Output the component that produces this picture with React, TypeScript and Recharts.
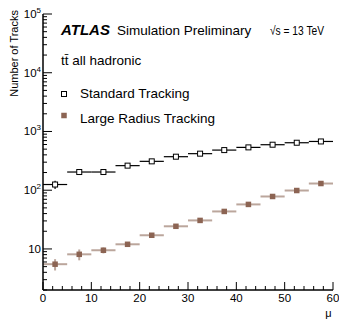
import React from 'react';
import { ScatterChart, Scatter, XAxis, YAxis, ErrorBar } from 'recharts';

const muBinCenters = [2.5, 7.5, 12.5, 17.5, 22.5, 27.5, 32.5, 37.5, 42.5, 47.5, 52.5, 57.5];
const muBinHalfWidths = [2.5, 2.5, 2.5, 2.5, 2.5, 2.5, 2.5, 2.5, 2.5, 2.5, 2.5, 2.5];
const standardTracks = [125, 204, 204, 262, 310, 372, 419, 482, 536, 595, 643, 676];
const standardErrors = [20, 8, 8, 8, 8, 8, 8, 8, 8, 8, 8, 8];
const largeRadiusTracks = [5.5, 8.1, 9.5, 12.0, 17.1, 24.3, 30.6, 43.5, 57.3, 78.2, 98.8, 130];
const largeRadiusErrors = [1.2, 1.7, 1.1, 0.7, 0.6, 0.6, 0.6, 0.7, 0.8, 1.0, 1.2, 1.5];

const xMajorTicks = [0, 10, 20, 30, 40, 50, 60];
const xMinorTicks = [2, 4, 6, 8, 12, 14, 16, 18, 22, 24, 26, 28, 32, 34, 36, 38, 42, 44, 46, 48, 52, 54, 56, 58];
const yMajorTicks = [10, 100, 1000, 10000, 100000];
const yMinorTicks = [
  2, 3, 4, 5, 6, 7, 8, 9,
  20, 30, 40, 50, 60, 70, 80, 90,
  200, 300, 400, 500, 600, 700, 800, 900,
  2000, 3000, 4000, 5000, 6000, 7000, 8000, 9000,
  20000, 30000, 40000, 50000, 60000, 70000, 80000, 90000,
];
const yTickLabels: Record<number, [string, string]> = {
  10: ['10', ''],
  100: ['10', '2'],
  1000: ['10', '3'],
  10000: ['10', '4'],
  100000: ['10', '5'],
};

const xTicks = [...xMajorTicks, ...xMinorTicks].sort((a, b) => a - b);
const yTicks = [...yMajorTicks, ...yMinorTicks].sort((a, b) => a - b);

const standardData = muBinCenters.map((mu, i) => ({
  mu,
  tracks: standardTracks[i],
  xerr: muBinHalfWidths[i],
  yerr: standardErrors[i],
}));
const largeRadiusData = muBinCenters.map((mu, i) => ({
  mu,
  tracks: largeRadiusTracks[i],
  xerr: muBinHalfWidths[i],
  yerr: largeRadiusErrors[i],
}));

const LR_COLOR = '#8c6453';
const LR_BAR = '#bba69c';
const FONT = '"Liberation Sans", Arial, Helvetica, sans-serif';

const isMajorX = (v: number) => xMajorTicks.includes(v);
const isMajorY = (v: number) => yMajorTicks.includes(v);

const BottomTick = (p: any) => {
  const v = p.payload.value;
  const major = isMajorX(v);
  return (
    <g>
      <line x1={p.x} x2={p.x} y1={p.y} y2={p.y - (major ? 8 : 4)} stroke="#000" strokeWidth={1} />
      {major && (
        <text x={p.x} y={p.y + 12} textAnchor="middle" fontSize={11.5} fontFamily={FONT} fill="#000">
          {v}
        </text>
      )}
    </g>
  );
};
const TopTick = (p: any) => {
  const v = p.payload.value;
  const major = isMajorX(v);
  return <line x1={p.x} x2={p.x} y1={p.y} y2={p.y + (major ? 8 : 4)} stroke="#000" strokeWidth={1} />;
};
const LeftTick = (p: any) => {
  const v = p.payload.value;
  const major = isMajorY(v);
  const lab = yTickLabels[v];
  return (
    <g>
      <line x1={p.x} x2={p.x + (major ? 9 : 4)} y1={p.y} y2={p.y} stroke="#000" strokeWidth={1} />
      {major && lab && (
        <text x={p.x - 2} y={p.y} dy={4} textAnchor="end" fontSize={11.5} fontFamily={FONT} fill="#000">
          <tspan>{lab[0]}</tspan>
          {lab[1] && (
            <tspan dy={-5} fontSize={8}>
              {lab[1]}
            </tspan>
          )}
        </text>
      )}
    </g>
  );
};
const RightTick = (p: any) => {
  const v = p.payload.value;
  const major = isMajorY(v);
  return <line x1={p.x} x2={p.x - (major ? 9 : 4)} y1={p.y} y2={p.y} stroke="#000" strokeWidth={1} />;
};

const OpenSquare = (p: any) => (
  <rect x={p.cx - 2.5} y={p.cy - 2.5} width={5} height={5} fill="#fff" stroke="#000" strokeWidth={1} />
);
const FilledSquare = (p: any) => (
  <rect x={p.cx - 2.75} y={p.cy - 2.75} width={5.5} height={5.5} fill={LR_COLOR} />
);

export default function App() {
  return (
    <div style={{ position: 'absolute', left: 0, top: 0, width: 339, height: 320, background: '#fff' }}>
      <ScatterChart width={339} height={320} margin={{ top: 14, right: 6, bottom: 0, left: 0 }}>
        <XAxis
          xAxisId="b"
          type="number"
          dataKey="mu"
          domain={[0, 60]}
          ticks={xTicks}
          interval={0}
          orientation="bottom"
          height={30}
          tickSize={0}
          tickMargin={0}
          tick={BottomTick}
          axisLine={{ stroke: '#000', strokeWidth: 1.5 }}
          allowDataOverflow
        />
        <XAxis
          xAxisId="t"
          type="number"
          dataKey="mu"
          domain={[0, 60]}
          ticks={xTicks}
          interval={0}
          orientation="top"
          height={0}
          tickSize={0}
          tickMargin={0}
          tick={TopTick}
          axisLine={{ stroke: '#000', strokeWidth: 1.5 }}
          allowDataOverflow
        />
        <YAxis
          yAxisId="l"
          type="number"
          dataKey="tracks"
          scale="log"
          domain={[2, 100000]}
          ticks={yTicks}
          interval={0}
          orientation="left"
          width={43}
          tickSize={0}
          tickMargin={0}
          tick={LeftTick}
          axisLine={{ stroke: '#000', strokeWidth: 1.5 }}
          allowDataOverflow
        />
        <YAxis
          yAxisId="r"
          type="number"
          dataKey="tracks"
          scale="log"
          domain={[2, 100000]}
          ticks={yTicks}
          interval={0}
          orientation="right"
          width={0}
          tickSize={0}
          tickMargin={0}
          tick={RightTick}
          axisLine={{ stroke: '#000', strokeWidth: 1.5 }}
          allowDataOverflow
        />
        <Scatter
          data={standardData}
          xAxisId="b"
          yAxisId="l"
          shape={OpenSquare}
          isAnimationActive={false}
        >
          <ErrorBar dataKey="xerr" direction="x" width={0} stroke="#000" strokeWidth={1.2} />
          <ErrorBar dataKey="yerr" direction="y" width={0} stroke="#000" strokeWidth={1.2} />
        </Scatter>
        <Scatter
          data={largeRadiusData}
          xAxisId="b"
          yAxisId="l"
          shape={FilledSquare}
          isAnimationActive={false}
        >
          <ErrorBar dataKey="xerr" direction="x" width={0} stroke={LR_BAR} strokeWidth={2} />
          <ErrorBar dataKey="yerr" direction="y" width={0} stroke={LR_BAR} strokeWidth={2} />
        </Scatter>
      </ScatterChart>
      <svg
        width={339}
        height={320}
        style={{ position: 'absolute', left: 0, top: 0, pointerEvents: 'none' }}
        fontFamily={FONT}
      >
        <text x={61} y={35} fontSize={15} fontWeight="bold" fontStyle="italic" fill="#000">
          ATLAS
        </text>
        <text x={117} y={35} fontSize={13.5} fill="#000">
          Simulation Preliminary
        </text>
        <text
          x={270}
          y={35}
          fontSize={12.5}
          fill="#000"
          textLength={54}
          lengthAdjust="spacingAndGlyphs"
        >
          {'\u221As = 13 TeV'}
        </text>
        <text x={61} y={64.5} fontSize={13.5} fill="#000">
          {'tt\u0304 all hadronic'}
        </text>
        <rect x={61.5} y={91.5} width={5} height={5} fill="#fff" stroke="#000" strokeWidth={1} />
        <text x={80} y={97.5} fontSize={13.5} fill="#000">
          Standard Tracking
        </text>
        <rect x={61.25} y={112.75} width={5.5} height={5.5} fill={LR_COLOR} />
        <text x={80} y={122.5} fontSize={13.5} fill="#000">
          Large Radius Tracking
        </text>
        <text transform="translate(18,10) rotate(-90)" textAnchor="end" fontSize={11} fill="#000">
          Number of Tracks
        </text>
        <text x={328.5} y={316.5} textAnchor="middle" fontSize={11} fill="#000">
          {'\u03BC'}
        </text>
      </svg>
    </div>
  );
}
